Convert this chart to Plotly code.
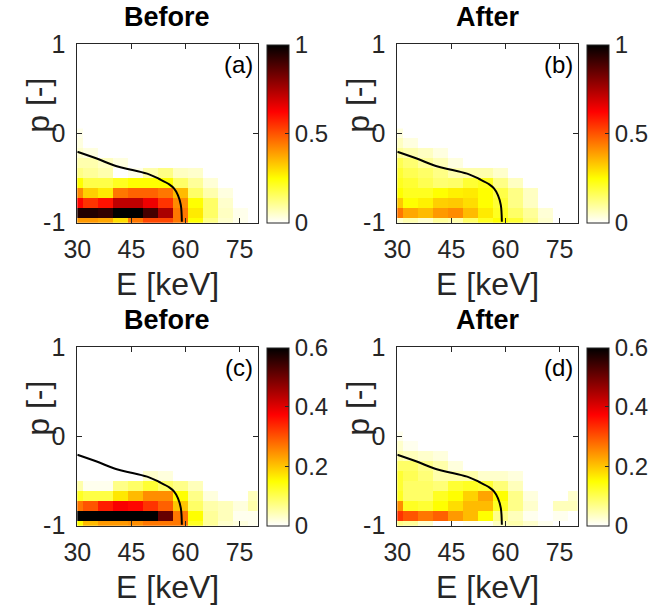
import plotly.graph_objects as go

# ---------------- data ----------------
E_centers = [29.58, 33.75, 37.92, 42.08, 46.25, 50.42, 54.58, 58.75, 62.92, 67.08, 71.25, 75.42, 79.58]
p_centers = [-1.0, -0.889, -0.778, -0.667, -0.556, -0.444, -0.333, -0.222, -0.111, 0.0]

# rows ordered from p=-1 (bottom) upward
z_a = [
    [0.40, 0.40, 0.38, 0.30, 0.45, 0.52, 0.52, 0.45, 0.25, 0.12, 0.05, 0.02, 0.00],
    [0.95, 0.95, 0.93, 1.00, 1.00, 0.90, 0.75, 0.45, 0.28, 0.15, 0.06, 0.02, 0.00],
    [0.62, 0.55, 0.60, 0.72, 0.72, 0.65, 0.55, 0.42, 0.25, 0.15, 0.05, 0.00, 0.00],
    [0.42, 0.32, 0.28, 0.45, 0.48, 0.48, 0.45, 0.35, 0.15, 0.08, 0.03, 0.00, 0.00],
    [0.25, 0.18, 0.18, 0.22, 0.25, 0.25, 0.25, 0.15, 0.10, 0.04, 0.00, 0.00, 0.00],
    [0.12, 0.10, 0.08, 0.00, 0.02, 0.08, 0.12, 0.06, 0.05, 0.00, 0.00, 0.00, 0.00],
    [0.08, 0.08, 0.06, 0.03, 0.00, 0.00, 0.00, 0.00, 0.00, 0.00, 0.00, 0.00, 0.00],
    [0.05, 0.03, 0.00, 0.00, 0.00, 0.00, 0.00, 0.00, 0.00, 0.00, 0.00, 0.00, 0.00],
    [0.03, 0.00, 0.00, 0.00, 0.00, 0.00, 0.00, 0.00, 0.00, 0.00, 0.00, 0.00, 0.00],
    [0.02, 0.00, 0.00, 0.00, 0.00, 0.00, 0.00, 0.00, 0.00, 0.00, 0.00, 0.00, 0.00],
]
z_b = [
    [0.05, 0.08, 0.05, 0.10, 0.08, 0.15, 0.22, 0.25, 0.20, 0.12, 0.05, 0.00, 0.00],
    [0.45, 0.38, 0.35, 0.40, 0.42, 0.35, 0.28, 0.22, 0.15, 0.10, 0.04, 0.00, 0.00],
    [0.33, 0.25, 0.27, 0.32, 0.33, 0.30, 0.25, 0.20, 0.12, 0.06, 0.00, 0.00, 0.00],
    [0.25, 0.22, 0.22, 0.25, 0.27, 0.28, 0.25, 0.18, 0.12, 0.06, 0.00, 0.00, 0.00],
    [0.22, 0.20, 0.17, 0.14, 0.15, 0.20, 0.22, 0.12, 0.06, 0.00, 0.00, 0.00, 0.00],
    [0.20, 0.17, 0.15, 0.12, 0.08, 0.08, 0.08, 0.05, 0.00, 0.00, 0.00, 0.00, 0.00],
    [0.17, 0.14, 0.10, 0.07, 0.03, 0.00, 0.00, 0.00, 0.00, 0.00, 0.00, 0.00, 0.00],
    [0.10, 0.08, 0.06, 0.03, 0.00, 0.00, 0.00, 0.00, 0.00, 0.00, 0.00, 0.00, 0.00],
    [0.06, 0.03, 0.00, 0.00, 0.00, 0.00, 0.00, 0.00, 0.00, 0.00, 0.00, 0.00, 0.00],
    [0.03, 0.00, 0.00, 0.00, 0.00, 0.00, 0.00, 0.00, 0.00, 0.00, 0.00, 0.00, 0.00],
]
z_c = [
    [0.15, 0.21, 0.24, 0.24, 0.25, 0.27, 0.27, 0.27, 0.13, 0.06, 0.03, 0.02, 0.01],
    [0.62, 0.62, 0.62, 0.62, 0.62, 0.62, 0.51, 0.27, 0.15, 0.06, 0.04, 0.01, 0.01],
    [0.27, 0.30, 0.35, 0.38, 0.37, 0.33, 0.29, 0.20, 0.09, 0.05, 0.04, 0.02, 0.05],
    [0.13, 0.11, 0.11, 0.17, 0.21, 0.25, 0.25, 0.15, 0.07, 0.02, 0.00, 0.00, 0.04],
    [0.05, 0.01, 0.01, 0.07, 0.09, 0.12, 0.09, 0.07, 0.04, 0.00, 0.00, 0.00, 0.00],
    [0.00, 0.00, 0.00, 0.00, 0.00, 0.03, 0.02, 0.00, 0.00, 0.00, 0.00, 0.00, 0.00],
    [0.00, 0.00, 0.00, 0.00, 0.00, 0.00, 0.00, 0.00, 0.00, 0.00, 0.00, 0.00, 0.00],
    [0.00, 0.00, 0.00, 0.00, 0.00, 0.00, 0.00, 0.00, 0.00, 0.00, 0.00, 0.00, 0.00],
    [0.00, 0.00, 0.00, 0.00, 0.00, 0.00, 0.00, 0.00, 0.00, 0.00, 0.00, 0.00, 0.00],
    [0.00, 0.00, 0.00, 0.00, 0.00, 0.00, 0.00, 0.00, 0.00, 0.00, 0.00, 0.00, 0.00],
]
z_d = [
    [0.07, 0.06, 0.03, 0.00, 0.00, 0.01, 0.01, 0.04, 0.05, 0.03, 0.01, 0.00, 0.00],
    [0.33, 0.30, 0.27, 0.29, 0.24, 0.21, 0.15, 0.07, 0.04, 0.01, 0.00, 0.01, 0.00],
    [0.25, 0.13, 0.12, 0.15, 0.18, 0.21, 0.21, 0.13, 0.07, 0.03, 0.00, 0.04, 0.04],
    [0.13, 0.09, 0.09, 0.13, 0.15, 0.19, 0.23, 0.15, 0.07, 0.02, 0.00, 0.00, 0.03],
    [0.12, 0.09, 0.09, 0.08, 0.12, 0.13, 0.12, 0.08, 0.04, 0.00, 0.00, 0.00, 0.00],
    [0.12, 0.10, 0.08, 0.05, 0.05, 0.05, 0.03, 0.03, 0.02, 0.00, 0.00, 0.00, 0.00],
    [0.09, 0.09, 0.07, 0.05, 0.02, 0.00, 0.00, 0.00, 0.00, 0.00, 0.00, 0.00, 0.00],
    [0.05, 0.04, 0.03, 0.02, 0.00, 0.00, 0.00, 0.00, 0.00, 0.00, 0.00, 0.00, 0.00],
    [0.03, 0.01, 0.00, 0.00, 0.00, 0.00, 0.00, 0.00, 0.00, 0.00, 0.00, 0.00, 0.00],
    [0.01, 0.00, 0.00, 0.00, 0.00, 0.00, 0.00, 0.00, 0.00, 0.00, 0.00, 0.00, 0.00],
]

# black boundary curve (E [keV], p)
curve_E = [30.0, 35.2, 40.7, 45.3, 49.9, 52.7, 55.5, 56.8, 57.9, 58.7, 59.0]
curve_p = [-0.204, -0.278, -0.364, -0.41, -0.458, -0.51, -0.57, -0.615, -0.69, -0.80, -0.99]

titles = ["Before", "After", "Before", "After"]
labels = ["(a)", "(b)", "(c)", "(d)"]
zmax_list = [1.0, 1.0, 0.6, 0.6]
cbar_ticks = [[0, 0.5, 1], [0, 0.5, 1], [0, 0.2, 0.4, 0.6], [0, 0.2, 0.4, 0.6]]
cbar_text = [["0", "0.5", "1"], ["0", "0.5", "1"], ["0", "0.2", "0.4", "0.6"], ["0", "0.2", "0.4", "0.6"]]
x_ticks = [30, 45, 60, 75]
y_ticks = [-1, 0, 1]
x_label = "E [keV]"
y_label = "p [-]"

# ---------------- styling ----------------
W, H = 669, 605
FONT = "Arial, Liberation Sans, Helvetica, sans-serif"
TXT = "#262626"

# reversed "hot" colormap
hot_r = [
    [0.0, "rgb(255,255,255)"],
    [0.25, "rgb(255,255,0)"],
    [0.625, "rgb(255,0,0)"],
    [1.0, "rgb(0,0,0)"],
]

# axes pixel boxes (left, right, top, bottom)
boxes = [
    (77.3, 257.6, 44.3, 222.7),
    (397.3, 577.6, 44.3, 222.7),
    (77.3, 257.6, 347.3, 525.7),
    (397.3, 577.6, 347.3, 525.7),
]

fig = go.Figure()
zs = [z_a, z_b, z_c, z_d]
layout_axes = {}
annotations = []

def px_x(v):
    return v / W

def px_y(v):
    return 1 - v / H

for i in range(4):
    L, R, T, B = boxes[i]
    xd = [px_x(L), px_x(R)]
    yd = [px_y(B), px_y(T)]
    xa = "x" if i == 0 else f"x{i+1}"
    ya = "y" if i == 0 else f"y{i+1}"
    xkey = "xaxis" if i == 0 else f"xaxis{i+1}"
    ykey = "yaxis" if i == 0 else f"yaxis{i+1}"

    fig.add_trace(go.Heatmap(
        x=E_centers, y=p_centers, z=zs[i],
        xaxis=xa, yaxis=ya,
        zmin=0, zmax=zmax_list[i], colorscale=hot_r, zsmooth=False,
        colorbar=dict(
            x=px_x(L + 190), xanchor="left",
            y=px_y((T + B) / 2), yanchor="middle",
            len=(B - T) / H, lenmode="fraction",
            thickness=22, thicknessmode="pixels",
            outlinewidth=1, outlinecolor=TXT,
            tickmode="array", tickvals=cbar_ticks[i], ticktext=cbar_text[i],
            ticks="inside", ticklen=4, tickcolor=TXT,
            tickfont=dict(family=FONT, size=24, color=TXT),
            xpad=0, ypad=0,
        ),
        showscale=True,
        hoverinfo="skip",
    ))
    fig.add_trace(go.Scatter(
        x=curve_E, y=curve_p, mode="lines",
        line=dict(color="black", width=2, shape="spline"),
        xaxis=xa, yaxis=ya, showlegend=False, hoverinfo="skip",
    ))

    common = dict(
        showline=True, linecolor=TXT, linewidth=1, mirror="ticks",
        ticks="inside", ticklen=5, tickcolor=TXT, tickwidth=1,
        showgrid=False, zeroline=False, automargin=False,
        tickfont=dict(family=FONT, size=25, color=TXT),
    )
    layout_axes[xkey] = dict(
        common, domain=xd, anchor=ya, range=[30, 80],
        tickmode="array", tickvals=x_ticks, ticktext=[str(v) for v in x_ticks],
        ticklabelstandoff=4,
    )
    layout_axes[ykey] = dict(
        common, domain=yd, anchor=xa, range=[-1, 1],
        tickmode="array", tickvals=y_ticks, ticktext=[str(v) for v in y_ticks],
        ticklabelstandoff=6,
    )
    # panel title
    annotations.append(dict(
        x=px_x((L + R) / 2), y=px_y(T - 27), xref="paper", yref="paper",
        text=f"<b>{titles[i]}</b>", showarrow=False,
        font=dict(family=FONT, size=27, color="black"),
        xanchor="center", yanchor="middle",
    ))
    # panel letter
    annotations.append(dict(
        x=px_x(R - 3), y=px_y(T + 20), xref="paper", yref="paper",
        text=labels[i], showarrow=False,
        font=dict(family=FONT, size=24, color="black"),
        xanchor="right", yanchor="middle",
    ))
    # x axis label
    annotations.append(dict(
        x=px_x((L + R) / 2), y=px_y(B + 61), xref="paper", yref="paper",
        text=x_label, showarrow=False,
        font=dict(family=FONT, size=32, color=TXT),
        xanchor="center", yanchor="middle",
    ))
    # y axis label
    annotations.append(dict(
        x=px_x(L - 40), y=px_y((T + B) / 2 - 28), xref="paper", yref="paper",
        text=y_label, showarrow=False, textangle=-90,
        font=dict(family=FONT, size=32, color=TXT),
        xanchor="center", yanchor="middle",
    ))

fig.update_layout(
    width=W, height=H,
    margin=dict(l=0, r=0, t=0, b=0, autoexpand=False),
    paper_bgcolor="white", plot_bgcolor="white",
    showlegend=False,
    annotations=annotations,
    **layout_axes,
)

fig.write_html(
    "out.html",
    config={"displayModeBar": False, "staticPlot": True},
    post_script="document.body.style.margin='0';document.body.style.overflow='hidden';",
)
